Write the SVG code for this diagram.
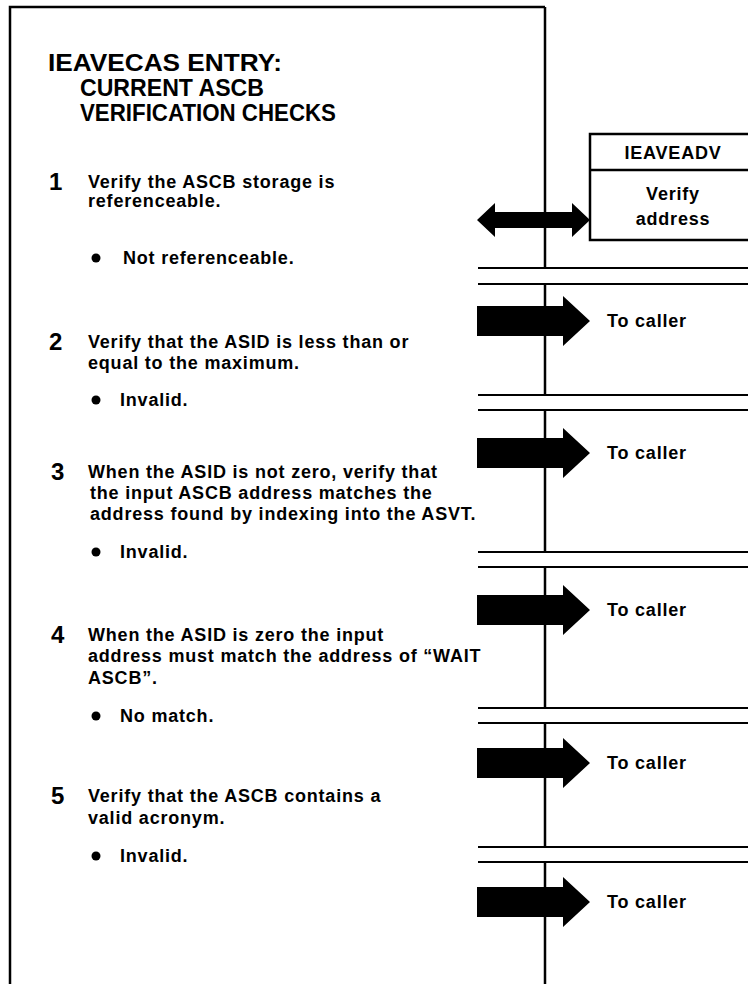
<svg xmlns="http://www.w3.org/2000/svg" width="748" height="984" viewBox="0 0 748 984">
  <style>
    .t { font-family: "Liberation Sans", Arial, sans-serif; font-weight: bold; fill: #000; }
    .title { font-size: 23px; }
    .body { font-size: 18px; letter-spacing: 0.8px; }
    .num { font-size: 24px; }
    .lbl { font-size: 18px; letter-spacing: 0.8px; }
    .frame { fill: none; stroke: #000; stroke-width: 2.5; }
    .brk { stroke: #000; stroke-width: 2; }
    .arrow { fill: #000; }
  </style>
  <defs>
    <!-- thick block arrow pointing right; origin at the tail centre -->
    <polygon id="blockArrow" points="0,-15 86,-15 86,-25 113,0 86,25 86,15 0,15"/>
  </defs>

  <rect width="748" height="984" fill="#fff"/>

  <!-- main process box: top and left edges -->
  <g id="main-box">
    <path class="frame" d="M10,984 V7 H545"/>
    <text class="t title" x="48" y="71" textLength="234" lengthAdjust="spacingAndGlyphs">IEAVECAS ENTRY:</text>
    <text class="t title" x="80" y="96" textLength="184" lengthAdjust="spacingAndGlyphs">CURRENT ASCB</text>
    <text class="t title" x="80" y="121" textLength="256" lengthAdjust="spacingAndGlyphs">VERIFICATION CHECKS</text>
  </g>

  <g id="step1">
    <text class="t num" x="49" y="190">1</text>
    <text class="t body" x="88" y="188">Verify the ASCB storage is</text>
    <text class="t body" x="88" y="207">referenceable.</text>
    <circle cx="96" cy="258" r="4.5"/>
    <text class="t body" x="123" y="264">Not referenceable.</text>
  </g>

  <g id="step2">
    <text class="t num" x="49" y="350">2</text>
    <text class="t body" x="88" y="348">Verify that the ASID is less than or</text>
    <text class="t body" x="88" y="369">equal to the maximum.</text>
    <circle cx="96" cy="400" r="4.5"/>
    <text class="t body" x="120" y="406">Invalid.</text>
  </g>

  <g id="step3">
    <text class="t num" x="51" y="480">3</text>
    <text class="t body" x="88" y="478">When the ASID is not zero, verify that</text>
    <text class="t body" x="90" y="499">the input ASCB address matches the</text>
    <text class="t body" x="90" y="520">address found by indexing into the ASVT.</text>
    <circle cx="96" cy="552" r="4.5"/>
    <text class="t body" x="120" y="558">Invalid.</text>
  </g>

  <g id="step4">
    <text class="t num" x="51" y="643">4</text>
    <text class="t body" x="88" y="641">When the ASID is zero the input</text>
    <text class="t body" x="88" y="662">address must match the address of “WAIT</text>
    <text class="t body" x="88" y="684">ASCB”.</text>
    <circle cx="96" cy="716" r="4.5"/>
    <text class="t body" x="120" y="722">No match.</text>
  </g>

  <g id="step5">
    <text class="t num" x="51" y="804">5</text>
    <text class="t body" x="88" y="802">Verify that the ASCB contains a</text>
    <text class="t body" x="88" y="824">valid acronym.</text>
    <circle cx="96" cy="856" r="4.5"/>
    <text class="t body" x="120" y="862">Invalid.</text>
  </g>

  <!-- called routine -->
  <g id="ieaveadv">
    <rect class="frame" x="590" y="134" width="175" height="106"/>
    <line class="frame" x1="590" y1="170" x2="748" y2="170"/>
    <text class="t lbl" x="673" y="159" text-anchor="middle">IEAVEADV</text>
    <text class="t lbl" x="673" y="200" text-anchor="middle">Verify</text>
    <text class="t lbl" x="673" y="225" text-anchor="middle">address</text>
  </g>

  <g id="exit-labels">
    <text class="t lbl" x="607" y="327">To caller</text>
    <text class="t lbl" x="607" y="459">To caller</text>
    <text class="t lbl" x="607" y="616">To caller</text>
    <text class="t lbl" x="607" y="769">To caller</text>
    <text class="t lbl" x="607" y="908">To caller</text>
  </g>

  <g id="connectors">
    <!-- main flow line, broken at each step boundary -->
    <path class="frame" d="M545,7 V268 M545,284 V395 M545,410 V552 M545,567 V708 M545,723 V847 M545,862 V984"/>
    <!-- step boundary double lines -->
    <path class="brk" d="M478,268 H748 M478,284 H748 M478,395 H748 M478,410 H748 M478,552 H748 M478,567 H748 M478,708 H748 M478,723 H748 M478,847 H748 M478,862 H748"/>
    <!-- call / return to IEAVEADV -->
    <polygon class="arrow" points="477,220 495,203 495,212 572,212 572,203 590,220 572,237 572,228 495,228 495,237"/>
    <!-- exits to caller -->
    <use href="#blockArrow" class="arrow" x="477" y="321"/>
    <use href="#blockArrow" class="arrow" x="477" y="453"/>
    <use href="#blockArrow" class="arrow" x="477" y="610"/>
    <use href="#blockArrow" class="arrow" x="477" y="763"/>
    <use href="#blockArrow" class="arrow" x="477" y="902"/>
  </g>
</svg>
